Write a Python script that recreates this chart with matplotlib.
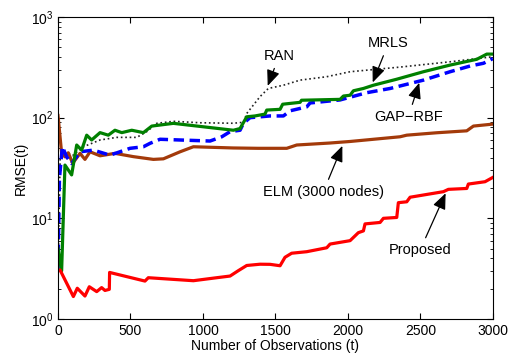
import matplotlib
matplotlib.use("Agg")
import matplotlib.pyplot as plt

plt.rcParams['font.family'] = ['Liberation Sans', 'DejaVu Sans']
plt.rcParams['mathtext.fontset'] = 'custom'
plt.rcParams['mathtext.rm'] = 'Liberation Sans'
plt.rcParams['mathtext.it'] = 'Liberation Sans:italic'

# RMSE curves against number of observations
t_prop = [0, 14, 106, 133, 186, 216, 267, 301, 324, 354, 356, 600, 623, 934, 1095,
          1187, 1244, 1302, 1394, 1463, 1532, 1566, 1612, 1716, 1854, 1877, 2015,
          2072, 2107, 2118, 2222, 2245, 2337, 2348, 2406, 2429, 2659, 2693, 2820,
          2831, 2946, 3000]
rmse_prop = [3.0, 3.07, 1.67, 2.02, 1.69, 2.09, 1.87, 2.05, 1.92, 1.97, 2.9, 2.38,
             2.57, 2.4, 2.57, 2.67, 3.02, 3.4, 3.5, 3.49, 3.38, 4.1, 4.5, 4.66, 5.1,
             5.55, 6.0, 7.2, 7.5, 8.8, 9.1, 10.0, 10.2, 14.3, 14.6, 16.2, 18.4, 19.4,
             19.8, 21.9, 23.1, 25.5]

t_elm = [0, 25, 48, 71, 101, 152, 186, 221, 290, 393, 520, 658, 727, 842, 934, 1208,
         1380, 1578, 1647, 1877, 2015, 2360, 2406, 2613, 2820, 2866, 3000]
rmse_elm = [105, 44.5, 40.8, 44.8, 35.2, 44.2, 38.5, 45.8, 41.8, 44.2, 41, 38.5, 39,
            45.8, 51.4, 50, 49.6, 49.6, 53.5, 56, 58, 64.6, 67, 70.8, 74, 82.5, 86.3]

t_mrls = [0, 25, 48, 94, 129, 163, 198, 232, 290, 347, 393, 440, 509, 589, 647, 796,
          1210, 1256, 1302, 1359, 1428, 1440, 1532, 1550, 1670, 1680, 1946, 1969,
          2015, 2038, 2107, 2176, 2337, 2521, 2705, 2889, 2958, 3000]
rmse_mrls = [5, 3.0, 33.8, 27, 53.5, 47.6, 67, 60, 71, 67, 75, 71, 75, 71, 82.5, 87.8,
             75, 78, 102, 104, 108.5, 119, 121, 136, 142, 149, 152, 164, 167, 185, 195,
             210, 241, 286, 333, 380, 428, 428]

t_gap = [0, 10, 30, 60, 94, 152, 244, 359, 497, 589, 635, 704, 842, 1049, 1130, 1187,
         1256, 1279, 1325, 1463, 1555, 1601, 1716, 1739, 1946, 2130, 2291, 2521,
         2705, 2843, 2935, 3000]
rmse_gap = [3.0, 25, 51.5, 40.8, 35, 45.8, 47.6, 42.4, 49.6, 51.4, 55.6, 61, 60, 58.6,
            64.6, 72.6, 75, 87.8, 100, 104, 104, 117, 128, 140, 150, 177, 195, 236,
            286, 326, 347, 386]

t_ran = [0, 15, 60, 100, 175, 290, 405, 543, 612, 681, 796, 980, 1210, 1280, 1302,
         1394, 1451, 1555, 1670, 1853, 2015, 2360, 2705, 3000]
rmse_ran = [3.0, 40, 45, 42, 51.4, 60, 63.7, 63.7, 72.6, 87.8, 92, 89, 88, 90, 110,
            162, 195, 210, 236, 255, 286, 318, 359, 403]

fig = plt.figure(figsize=(5.11, 3.58), dpi=100)
ax = fig.add_axes([0.1135, 0.109, 0.851, 0.8435])

ax.plot(t_ran, rmse_ran, color='#222222', ls=':', lw=1.2)
ax.plot(t_elm, rmse_elm, color='#a33a0a', lw=2.3)
ax.plot(t_gap, rmse_gap, color='#0000ff', ls='--', lw=2.5, dashes=(3, 1.6))
ax.plot(t_mrls, rmse_mrls, color='#008000', lw=2.3)
ax.plot(t_prop, rmse_prop, color='#ff0000', lw=2.3)

ax.set_yscale('log')
ax.set_xlim(0, 3000)
ax.set_ylim(1, 1000)
ax.set_xticks([0, 500, 1000, 1500, 2000, 2500, 3000])
ax.tick_params(which='both', direction='in', top=True, right=True, labelsize=10)
ax.tick_params(which='major', length=4)
ax.tick_params(which='minor', length=2)
ax.set_xlabel('Number of Observations (t)', fontsize=10, labelpad=1)
ax.set_ylabel('RMSE(t)', fontsize=10, labelpad=2)

arrow = dict(arrowstyle='-|>,head_length=0.6,head_width=0.25', color='k', lw=0.9,
             mutation_scale=16)
ax.annotate('RAN', xy=(1440, 195), xytext=(1525, 409), ha='center', va='center',
            fontsize=10.5, arrowprops=arrow)
ax.annotate('MRLS', xy=(2164, 211), xytext=(2279, 547), ha='center', va='center',
            fontsize=10.5, arrowprops=arrow)
ax.annotate('GAP\u2212RBF', xy=(2498, 236), xytext=(2417, 102), ha='center', va='center',
            fontsize=10.5, arrowprops=arrow)
ax.annotate('ELM (3000 nodes)', xy=(1969, 55.6), xytext=(1831, 18.4), ha='center',
            va='center', fontsize=10.5, arrowprops=arrow)
ax.annotate('Proposed', xy=(2682, 18.8), xytext=(2498, 4.84), ha='center', va='center',
            fontsize=10.5, arrowprops=arrow)

fig.savefig('out.png', dpi=100)
